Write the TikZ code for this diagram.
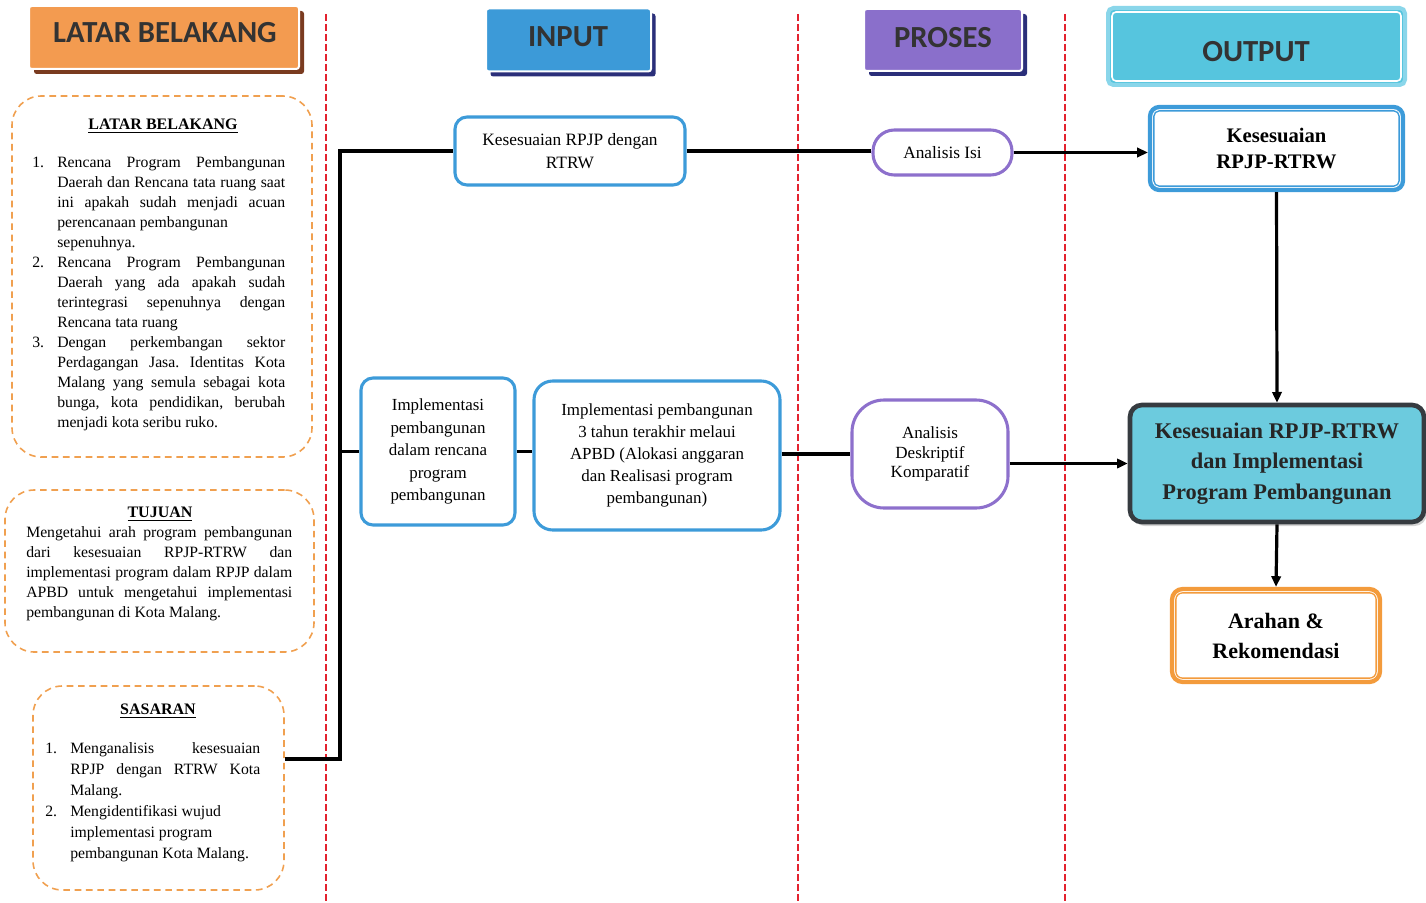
\documentclass[tikz,border=0pt]{standalone}
\usepackage{fontspec}
\setmainfont{Liberation Serif}
\newfontfamily\hdfont{Carlito}
\usetikzlibrary{arrows.meta,calc,shadows}
\frenchspacing
\definecolor{cOrange}{HTML}{F39B50}
\definecolor{cOrShadow}{HTML}{7A3B20}
\definecolor{cInput}{HTML}{3C9AD8}
\definecolor{cNavy}{HTML}{2B2F7A}
\definecolor{cProses}{HTML}{8A6FCB}
\definecolor{cOutput}{HTML}{56C5DE}
\definecolor{cOutEdge}{HTML}{8AD6EA}
\definecolor{cBlue}{HTML}{3D9BD9}
\definecolor{cPurple}{HTML}{8D70CC}
\definecolor{cArah}{HTML}{F39B3C}
\definecolor{cBig}{HTML}{6CCBDE}
\definecolor{cBigEdge}{HTML}{363B40}
\definecolor{cRed}{HTML}{E3222E}
\definecolor{cDash}{HTML}{F0A050}
\definecolor{cHdText}{HTML}{333333}
\begin{document}
\begin{tikzpicture}[x=0.75pt,y=-0.75pt,
  hdr/.style={inner sep=0, rounded corners=2pt},
  hdtext/.style={font=\hdfont\bfseries\fontsize{23}{26}\selectfont, text=cHdText, inner sep=0},
  dbox/.style={draw=cDash, line width=1.2pt, dash pattern=on 5pt off 3.5pt, rounded corners=22pt, inner sep=0},
  ttl/.style={font=\bfseries\fontsize{12}{14}\selectfont, inner sep=0},
  body/.style={font=\fontsize{11.8}{15}\selectfont, inner sep=0, anchor=north west, align=justify},
  bbox/.style={draw=cBlue, line width=2.3pt, rounded corners=9pt, fill=white, align=center, inner sep=2pt, font=\fontsize{13}{17}\selectfont},
  pbox/.style={draw=cPurple, line width=2.3pt, fill=white, align=center, inner sep=2pt},
  conn/.style={line width=2.4pt, black},
  arr/.style={line width=2.4pt, black, -{Triangle[length=8pt,width=7pt]}},
  redline/.style={draw=cRed, line width=1.6pt, dash pattern=on 5pt off 2.5pt}
]
\useasboundingbox (0,0) rectangle (1426,902);

% red dashed separators
\coordinate (r1t) at (326,14); \coordinate (r1b) at (326,902);
\coordinate (r2t) at (798,14); \coordinate (r2b) at (798,902);
\coordinate (r3t) at (1065,14); \coordinate (r3b) at (1065,902);
\draw[redline] (r1t) -- (r1b);
\draw[redline] (r2t) -- (r2b);
\draw[redline] (r3t) -- (r3b);

% headers
\node[hdr, fill=cOrShadow, minimum width=202.5pt, minimum height=47.25pt] (hLBs) at (169,42.5) {};
\node[hdr, fill=cOrange, draw=white, line width=1.5pt, minimum width=202.5pt, minimum height=47.25pt] (hLB) at (164,37.5) {};
\node[hdtext] (hLBt) at (165,33) {LATAR BELAKANG};

\node[hdr, fill=cNavy, minimum width=123.75pt, minimum height=47.25pt] (hINs) at (573,45) {};
\node[hdr, fill=cInput, draw=white, line width=1.5pt, minimum width=123.75pt, minimum height=47.25pt] (hIN) at (568.5,40) {};
\node[hdtext] (hINt) at (568,37) {INPUT};

\node[hdr, fill=cNavy, minimum width=118.5pt, minimum height=46.5pt] (hPRs) at (948,45) {};
\node[hdr, fill=cProses, draw=white, line width=1.5pt, minimum width=118.5pt, minimum height=46.5pt] (hPR) at (943,40) {};
\node[hdtext] (hPRt) at (943,38) {PROSES};

\node[hdr, fill=cOutput, draw=cOutEdge, line width=3pt, rounded corners=4pt, minimum width=222.75pt, minimum height=57.75pt] (hOU) at (1256.5,46.5) {};
\draw[white, line width=1.2pt, rounded corners=3pt] ($(hOU.south west)+(6,-6)$) rectangle ($(hOU.north east)+(-6,6)$);
\node[hdtext] (hOUt) at (1256,52) {OUTPUT};

% left dashed boxes
\node[dbox, minimum width=225pt, minimum height=270.75pt] (lb) at (162,276.5) {};
\node[dbox, minimum width=231.75pt, minimum height=121.5pt] (tj) at (159.5,571) {};
\node[dbox, minimum width=188.25pt, minimum height=153pt] (sb) at (158.5,788) {};

\node[ttl] (lbT) at (163,126) {\underline{LATAR BELAKANG}};
\node[body, text width=189.75pt] (lbL) at (32,156) {\hyphenpenalty=10000\leftskip=18.75pt
\noindent\llap{\makebox[18.75pt][l]{1.}}Rencana Program Pembangunan\linebreak Daerah dan Rencana tata ruang saat\linebreak ini apakah sudah menjadi acuan\linebreak perencanaan pembangunan\newline sepenuhnya.\par
\noindent\llap{\makebox[18.75pt][l]{2.}}Rencana Program Pembangunan\linebreak Daerah yang ada apakah sudah\linebreak terintegrasi sepenuhnya dengan\linebreak Rencana tata ruang\par
\noindent\llap{\makebox[18.75pt][l]{3.}}Dengan perkembangan sektor\linebreak Perdagangan Jasa. Identitas Kota\linebreak Malang yang semula sebagai kota\linebreak bunga, kota pendidikan, berubah\linebreak menjadi kota seribu ruko.\par};

\node[ttl] (tjT) at (160,514) {\underline{TUJUAN}};
\node[body, text width=199.5pt] (tjL) at (26,526) {\hyphenpenalty=10000
Mengetahui arah program pembangunan\linebreak dari kesesuaian RPJP-RTRW dan\linebreak implementasi program dalam RPJP dalam\linebreak APBD untuk mengetahui implementasi\linebreak pembangunan di Kota Malang.};

\node[ttl] (sbT) at (158,711) {\underline{SASARAN}};
\node[body, text width=161.25pt, font=\fontsize{11.8}{15.75}\selectfont] (sbL) at (45,742) {\hyphenpenalty=10000\leftskip=18.75pt
\noindent\llap{\makebox[18.75pt][l]{1.}}Menganalisis kesesuaian\linebreak RPJP dengan RTRW Kota\linebreak Malang.\par
\noindent\llap{\makebox[18.75pt][l]{2.}}Mengidentifikasi wujud\newline implementasi program\newline pembangunan Kota Malang.\par};

% input nodes
\node[bbox, minimum width=172.5pt, minimum height=51pt] (kes) at (570,151) {Kesesuaian RPJP dengan\\RTRW};
\node[bbox, minimum width=115.5pt, minimum height=110.25pt, font=\fontsize{12.7}{16.9}\selectfont] (imp1) at (438,451.5) {Implementasi\\pembangunan\\dalam rencana\\program\\pembangunan};
\node[bbox, minimum width=184.5pt, minimum height=111.75pt, rounded corners=14pt, font=\fontsize{12.7}{16.6}\selectfont] (imp2) at (657,455.5) {Implementasi pembangunan\\3 tahun terakhir melaui\\APBD (Alokasi anggaran\\dan Realisasi program\\pembangunan)};

% proses nodes
\node[pbox, minimum width=104.25pt, minimum height=33.75pt, rounded corners=16pt, font=\fontsize{13}{15}\selectfont] (isi) at (942.5,152.5) {Analisis Isi};
\node[pbox, minimum width=117pt, minimum height=81pt, rounded corners=24pt, font=\fontsize{12.8}{14.6}\selectfont] (adk) at (930,454) {Analisis\\Deskriptif\\Komparatif};

% output nodes
\node[draw=cBlue, line width=3.2pt, rounded corners=7pt, fill=white, minimum width=189.75pt, minimum height=62.25pt, align=center, font=\bfseries\fontsize{15.5}{20}\selectfont] (kes2) at (1276.5,148.5) {Kesesuaian\\RPJP-RTRW};
\draw[cBlue, line width=1pt, rounded corners=4pt] ($(kes2.south west)+(6,-6)$) rectangle ($(kes2.north east)+(-6,6)$);

\node[draw=cBigEdge, line width=3.5pt, rounded corners=9pt, fill=cBig, drop shadow={opacity=0.35, shadow xshift=2pt, shadow yshift=-3pt}, minimum width=220.5pt, minimum height=87.75pt, align=center, text=black!85, font=\bfseries\fontsize{16.8}{22.9}\selectfont] (big) at (1277,463.5) {Kesesuaian RPJP-RTRW\\dan Implementasi\\Program Pembangunan};

\node[draw=cArah, line width=3.2pt, rounded corners=8pt, fill=white, minimum width=156pt, minimum height=69.75pt, align=center, font=\bfseries\fontsize{16.5}{22.5}\selectfont] (arah) at (1276,635.5) {Arahan \&\\Rekomendasi};
\draw[cArah, line width=1pt, rounded corners=5pt] ($(arah.south west)+(6,-6)$) rectangle ($(arah.north east)+(-6,6)$);

% connectors
\coordinate (j1) at (340,759);
\draw[conn] (sb.east|-j1) -- (j1) -- (j1|-kes.west) -- (kes.west);
\draw[conn] (j1|-imp1.west) -- (imp1.west);
\draw[conn] (kes.east) -- (kes.east-|isi.west);
\draw[arr] (isi.east) -- (isi.east-|kes2.west);
\draw[conn] (imp1.east) -- (imp1.east-|imp2.west);
\draw[conn] (imp2.east|-adk.west) -- (adk.west);
\draw[arr] (big.west-|adk.east) -- (big.west);
\draw[arr] (kes2.south) -- (big.north);
\draw[arr] (big.south) -- (arah.north);
\end{tikzpicture}
\end{document}
